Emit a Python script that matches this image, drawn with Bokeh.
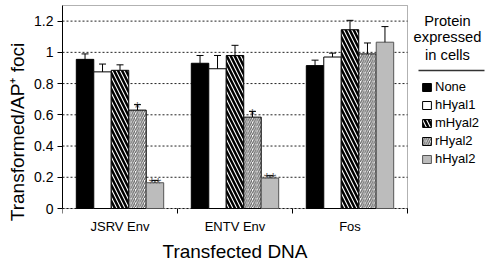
import numpy as np
from bokeh.plotting import figure
from bokeh.models import (ColumnDataSource, Range1d, FixedTicker, NumeralTickFormatter,
                          Legend, LegendItem, Whisker, TeeHead, Label, BoxAnnotation)
from bokeh.core.properties import value
from bokeh.embed import file_html
from bokeh.resources import INLINE

# ---------------- data ----------------
categories = ["JSRV Env", "ENTV Env", "Fos"]
series = ["None", "hHyal1", "mHyal2", "rHyal2", "hHyal2"]
val_none   = [0.955, 0.930, 0.915]
val_hhyal1 = [0.875, 0.895, 0.970]
val_mhyal2 = [0.885, 0.980, 1.145]
val_rhyal2 = [0.630, 0.585, 0.990]
val_hhyal2 = [0.165, 0.195, 1.065]
err_none   = [0.035, 0.050, 0.035]
err_hhyal1 = [0.050, 0.085, 0.025]
err_mhyal2 = [0.035, 0.065, 0.060]
err_rhyal2 = [0.035, 0.037, 0.070]
err_hhyal2 = [0.015, 0.015, 0.100]
sig_none   = ["", "", ""]
sig_hhyal1 = ["", "", ""]
sig_mhyal2 = ["", "", ""]
sig_rhyal2 = ["*", "*", ""]
sig_hhyal2 = ["**", "**", ""]
y_ticks = [0, 0.2, 0.4, 0.6, 0.8, 1.0, 1.2]
y_top = 1.3
x_title = "Transfected DNA"
y_title = "Transformed/AP\u207a foci"
legend_title = ["Protein", "expressed", "in cells"]

values = [val_none, val_hhyal1, val_mhyal2, val_rhyal2, val_hhyal2]
errors = [err_none, err_hhyal1, err_mhyal2, err_rhyal2, err_hhyal2]
sigs = [sig_none, sig_hhyal1, sig_mhyal2, sig_rhyal2, sig_hhyal2]

FONT = "Liberation Sans"
styles = [
    dict(fill_color="black", line_color="black"),
    dict(fill_color="white", line_color="black"),
    dict(fill_color="white", line_color="black", hatch_pattern="\\", hatch_color="black",
         hatch_scale=8, hatch_weight=2.5),
    dict(fill_color="white", line_color="black", hatch_pattern="/", hatch_color="#666666",
         hatch_scale=4.5, hatch_weight=1.3),
    dict(fill_color="#bcbcbc", line_color="#555555"),
]

# ---------------- layout (pixels; the page places the figure at 0,0) ----------------
W, H = 489, 263
LEFT = 62                      # y-axis panel width -> data area starts at x=62
FRAME_W = W - LEFT             # frame runs to the right edge (legend lives inside it)
FRAME_H = H                    # frame runs to the bottom edge (x labels drawn inside it)
ncat = len(categories)
DATA_W = 345                   # px used by the three category groups (62..407)
TOP_PX, ZERO_PX = 5, 208       # y=1.3 and y=0 pixel rows
PX_PER_X = DATA_W / ncat
PX_PER_Y = (ZERO_PX - TOP_PX) / y_top
X_MAX = FRAME_W / PX_PER_X
Y_MAX = y_top + TOP_PX / PX_PER_Y
Y_MIN = -(FRAME_H - ZERO_PX) / PX_PER_Y


def px_x(px):
    return (px - LEFT) / PX_PER_X


def px_y(py):
    return (ZERO_PX - py) / PX_PER_Y


p = figure(width=W, height=H, output_backend="svg", toolbar_location=None,
           x_range=Range1d(0, X_MAX), y_range=Range1d(Y_MIN, Y_MAX),
           x_axis_location=None,
           min_border_left=LEFT, min_border_right=0, min_border_top=0, min_border_bottom=0)
p.min_border = 0
p.outline_line_color = None
p.background_fill_color = "white"
p.border_fill_color = "white"

# plot box around the data area
p.add_layout(BoxAnnotation(left=0, right=ncat, bottom=0, top=y_top,
                           fill_alpha=0, line_color="black", line_width=1, level="underlay"))

# dotted grid lines inside the data area only
p.xgrid.visible = False
p.ygrid.visible = False
p.segment(x0=[0] * len(y_ticks), x1=[ncat] * len(y_ticks), y0=y_ticks, y1=y_ticks,
          line_color="#222222", line_dash="2 2", line_width=1, level="underlay")

# bars, error bars, significance marks
bar_w = 0.152
n = len(series)
items = []
for j, name in enumerate(series):
    xs = [i + 0.5 + (j - (n - 1) / 2) * bar_w for i in range(ncat)]
    tops = values[j]
    uppers = [t + e for t, e in zip(tops, errors[j])]
    src = ColumnDataSource(dict(x=xs, top=tops, upper=uppers, sig=sigs[j]))
    r = p.vbar(x="x", top="top", width=bar_w, bottom=0, source=src, line_width=1, **styles[j])
    items.append(LegendItem(label=name, renderers=[r]))
    w = Whisker(source=src, base="x", upper="upper", lower="top", dimension="height",
                line_color="black", line_width=1, level="annotation",
                upper_head=TeeHead(size=7, line_color="black", line_width=1), lower_head=None)
    p.add_layout(w)
    p.text(x="x", y="upper", text="sig", source=src, text_align="center",
           text_baseline="alphabetic", y_offset=4, text_color="#666666",
           text_font=value(FONT), text_font_size="16px")

# x axis: boundary ticks, category labels and title (drawn below y=0 inside the frame)
tick_len = 5 / PX_PER_Y
p.segment(x0=list(range(ncat + 1)), x1=list(range(ncat + 1)), y0=[0] * (ncat + 1),
          y1=[-tick_len] * (ncat + 1), line_color="black", line_width=1)
p.text(x=[i + 0.5 for i in range(ncat)], y=[px_y(226)] * ncat, text=categories,
       text_align="center", text_baseline="middle", text_color="black",
       text_font=value(FONT), text_font_size="13px")
p.add_layout(Label(x=ncat / 2, y=px_y(250.5), text=x_title, text_align="center",
                   text_baseline="middle", text_font=FONT, text_font_size="19px",
                   text_color="black"))

# y axis
p.yaxis.bounds = (0, y_top)
p.yaxis.ticker = FixedTicker(ticks=y_ticks)
p.yaxis.formatter = NumeralTickFormatter(format="0.[0]")
p.yaxis.major_tick_out = 5
p.yaxis.major_tick_in = 0
p.yaxis.minor_tick_line_color = None
p.yaxis.major_label_text_font = FONT
p.yaxis.major_label_text_font_size = "14px"
p.yaxis.major_label_standoff = 4
p.yaxis.axis_label = y_title
p.yaxis.axis_label_standoff = 3
p.yaxis.axis_line_color = "black"
p.yaxis.major_tick_line_color = "black"
p.yaxis.major_label_text_color = "black"
p.yaxis.axis_label_text_font = FONT
p.yaxis.axis_label_text_font_size = "19px"
p.yaxis.axis_label_text_font_style = "normal"
p.yaxis.axis_label_text_color = "black"

# ---------------- legend (inside the frame, right of the data area) ----------------
legend = Legend(items=items, location=(359, 97), orientation="vertical",
                glyph_width=11, glyph_height=10, label_standoff=3, spacing=3,
                label_height=15, padding=0, margin=0,
                border_line_alpha=0, background_fill_alpha=0,
                label_text_font=FONT, label_text_font_size="13px",
                label_text_color="black")
p.add_layout(legend, "center")

for txt, py in zip(legend_title, [20.3, 36.8, 54.8]):
    p.add_layout(Label(x=px_x(447), y=px_y(py), text=txt, text_align="center",
                       text_baseline="middle", text_font=FONT, text_font_size="14.7px",
                       text_color="black"))
p.segment(x0=[px_x(418)], y0=[px_y(70)], x1=[px_x(484)], y1=[px_y(70)],
          line_color="#333333", line_width=1.5)

open("out.html", "w").write(file_html(p, INLINE))
